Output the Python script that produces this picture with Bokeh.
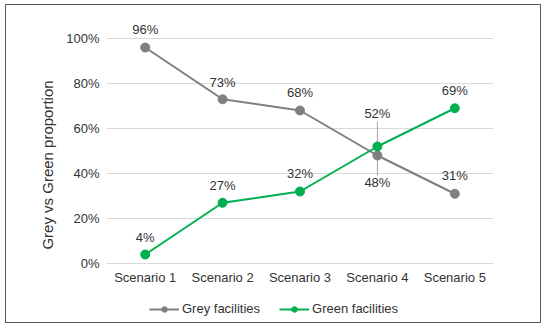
from bokeh.plotting import figure
from bokeh.models import ColumnDataSource, LabelSet, Legend, LegendItem, NumeralTickFormatter, FixedTicker, Range1d, FactorRange
from bokeh.core.properties import value
from bokeh.embed import file_html
from bokeh.resources import INLINE

scenarios = ["Scenario 1", "Scenario 2", "Scenario 3", "Scenario 4", "Scenario 5"]
grey = [0.96, 0.73, 0.68, 0.48, 0.31]
green = [0.04, 0.27, 0.32, 0.52, 0.69]
grey_labels = ["96%", "73%", "68%", "48%", "31%"]
green_labels = ["4%", "27%", "32%", "52%", "69%"]
y_ticks = [0, 0.2, 0.4, 0.6, 0.8, 1.0]

# label pixel offsets (style)
grey_off = [18, 17, 18, -27, 18]
green_off = [17, 17, 18, 33, 18]

GREY = "#7F7F7F"
GREEN = "#00B050"
TXT = "#333333"
FONT = "Liberation Sans"

PX = 225.0          # pixels for 100 %
TOP, BOT = 256, 59  # frame pixels above / below the 0 % line
FH = TOP + BOT
p = figure(x_range=FactorRange(*scenarios, range_padding=0),
           y_range=Range1d(-BOT / PX, TOP / PX),
           frame_width=387, frame_height=FH,
           min_border_left=100, min_border_right=47, min_border_top=2, min_border_bottom=0,
           output_backend="svg", toolbar_location=None,
           outline_line_color=None)
p.border_fill_color = "white"

p.xgrid.grid_line_color = None
p.ygrid.grid_line_color = "#D9D9D9"
p.ygrid.grid_line_width = 1

for ax in (p.xaxis, p.yaxis):
    ax.axis_line_color = None
    ax.major_tick_line_color = None
    ax.minor_tick_line_color = None
    ax.major_tick_out = 0
    ax.major_tick_in = 0
    ax.major_label_text_font = FONT
    ax.major_label_text_font_size = "13px"
    ax.major_label_text_color = TXT
p.xaxis.fixed_location = 0
p.xaxis.major_label_standoff = 6
p.yaxis.major_label_standoff = 7
p.yaxis.ticker = FixedTicker(ticks=y_ticks)
p.yaxis.formatter = NumeralTickFormatter(format="0%")
p.yaxis.axis_label = "Grey vs Green proportion"
p.yaxis.axis_label_text_font = FONT
p.yaxis.axis_label_text_font_size = "15px"
p.yaxis.axis_label_text_font_style = "normal"
p.yaxis.axis_label_text_color = TXT
p.yaxis.axis_label_standoff = 7

src = ColumnDataSource(dict(x=scenarios, grey=grey, green=green,
                            gl=grey_labels, nl=green_labels,
                            go=grey_off, no=green_off))

# leader lines for scenario 4
i4 = 3
p.segment(x0=[scenarios[i4]], y0=[green[i4] + 0.02], x1=[scenarios[i4]], y1=[green[i4] + 0.11],
          line_color="#A6A6A6", line_width=1)
p.segment(x0=[scenarios[i4]], y0=[grey[i4] - 0.02], x1=[scenarios[i4]], y1=[grey[i4] - 0.09],
          line_color="#A6A6A6", line_width=1)

gl = p.line("x", "grey", source=src, line_color=GREY, line_width=2)
gs = p.scatter("x", "grey", source=src, size=9, fill_color=GREY, line_color=GREY)
nl = p.line("x", "green", source=src, line_color=GREEN, line_width=2)
ns = p.scatter("x", "green", source=src, size=9, fill_color=GREEN, line_color=GREEN)

for col, off, yname in (("gl", "go", "grey"), ("nl", "no", "green")):
    lab = LabelSet(x="x", y=yname, text=col, y_offset=off, source=src,
                   text_align="center", text_baseline="middle",
                   text_font=value(FONT), text_font_size=value("13px"), text_color=TXT)
    p.add_layout(lab)

legend = Legend(items=[LegendItem(label="Grey facilities", renderers=[gl, gs]),
                       LegendItem(label="Green facilities", renderers=[nl, ns])],
                orientation="horizontal", location=(43, 6),
                glyph_width=30, glyph_height=14, label_standoff=3, spacing=19,
                padding=0, margin=0, border_line_color=None, background_fill_alpha=0,
                label_text_font=FONT, label_text_font_size="13px", label_text_color=TXT)
p.add_layout(legend, "center")

p.styles = {"border": "1.5px solid #595959", "box-sizing": "border-box",
            "margin-left": "5px", "margin-top": "4px"}

open("out.html", "w").write(file_html(p, INLINE))
